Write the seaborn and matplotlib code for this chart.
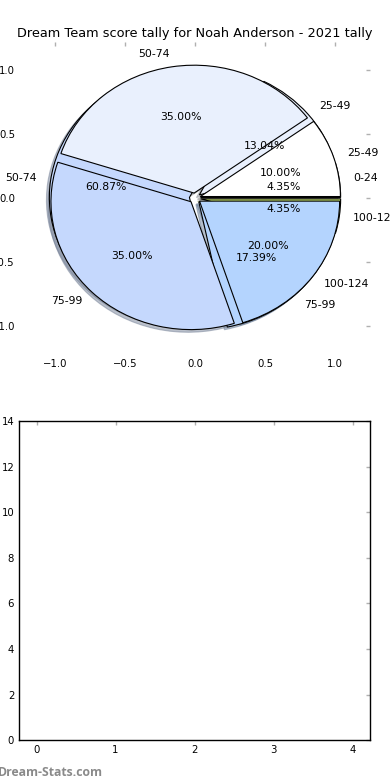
import matplotlib
matplotlib.use('Agg')
import matplotlib.pyplot as plt
import seaborn as sns

# score bands and tallies
all_bands = ['0-24', '25-49', '50-74', '75-99', '100-124']
all_counts = [1, 3, 14, 4, 1]
season_bands = ['25-49', '50-74', '75-99', '100-124']
season_counts = [2, 7, 7, 4]

wedge_colors = ['white', '#e9f0fd', '#c5d8fd', '#b4d4fe', '#c8e46e']
pie_ticks = [-1.0, -0.5, 0.0, 0.5, 1.0]
bar_xticks = [0, 1, 2, 3, 4]
bar_yticks = [0, 2, 4, 6, 8, 10, 12, 14]

sns.set_style('white')
plt.rcParams['font.family'] = ['DejaVu Sans']
plt.rcParams['text.color'] = 'black'
plt.rcParams['xtick.direction'] = 'in'
plt.rcParams['ytick.direction'] = 'in'
plt.rcParams['xtick.color'] = '#b0b0b0'
plt.rcParams['ytick.color'] = '#b0b0b0'
plt.rcParams['xtick.labelcolor'] = 'black'
plt.rcParams['ytick.labelcolor'] = 'black'
plt.rcParams['xtick.labelsize'] = 7.3
plt.rcParams['ytick.labelsize'] = 7.3

fig = plt.figure(figsize=(3.9, 7.8), dpi=100)
ax1 = fig.add_axes([0.051, 0.546, 0.898, 0.400])
ax2 = fig.add_axes([0.049, 0.051, 0.900, 0.409])

wp = {'edgecolor': 'black', 'linewidth': 0.8}
tp = {'fontsize': 7.8, 'color': 'black'}
shade = {'ox': -0.015, 'oy': -0.015, 'shade': 0.4}
ax1.pie(all_counts, labels=all_bands, colors=wedge_colors,
        explode=[0.04] * len(all_counts), autopct='%.2f%%', shadow=shade,
        wedgeprops=wp, textprops=tp, frame=False)
ax1.pie(season_counts, labels=season_bands, colors=wedge_colors[:4],
        explode=[0.04] * len(season_counts), autopct='%.2f%%', shadow=shade,
        wedgeprops=wp, textprops=tp, frame=False)
ax1.set_aspect('auto')
ax1.set_xlim(-1.25, 1.25)
ax1.set_ylim(-1.22, 1.22)
ax1.set_xticks(pie_ticks)
ax1.set_yticks(pie_ticks)
ax1.tick_params(top=True, right=True, length=3, width=1)
ax1.set_title('Dream Team score tally for Noah Anderson - 2021 tally',
              fontsize=9.3, pad=4)

# empty tally axes
ax2.set_xlim(-0.22, 4.22)
ax2.set_ylim(0, 14)
ax2.set_xticks(bar_xticks)
ax2.set_yticks(bar_yticks)
ax2.tick_params(top=True, right=True, length=3, width=1)
for s in ax2.spines.values():
    s.set_color('black')
    s.set_linewidth(1)

fig.text(-0.006, 0.005, 'Dream-Stats.com', color='#8a8a8a', fontsize=8.8,
         fontweight='bold', family='Open Sans')

fig.savefig('out.png', dpi=100)
